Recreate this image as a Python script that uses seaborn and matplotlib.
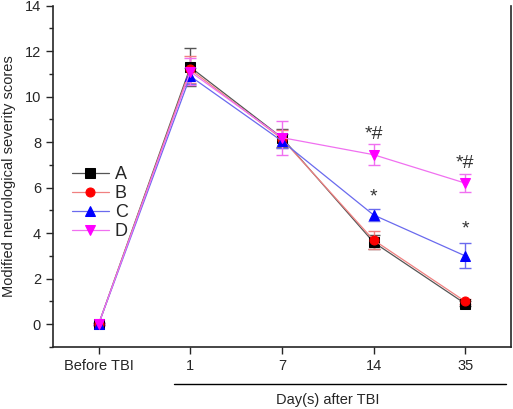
import matplotlib
matplotlib.use("Agg")
import matplotlib.pyplot as plt
from matplotlib.ticker import MultipleLocator
import seaborn as sns
import pandas as pd

timepoints = ["Before TBI", "1", "7", "14", "35"]
groups = ["A", "B", "C", "D"]

score_a = [0, 11.3, 8.2, 3.6, 0.9]
score_b = [0, 11.2, 8.15, 3.7, 1.0]
score_c = [0, 10.9, 8.05, 4.8, 3.0]
score_d = [0, 11.1, 8.2, 7.45, 6.2]

err_a = [0.05, 0.85, 0.4, 0.3, 0.1]
err_b = [0.05, 0.6, 0.4, 0.4, 0.1]
err_c = [0.05, 0.35, 0.3, 0.25, 0.55]
err_d = [0.05, 0.6, 0.75, 0.45, 0.4]

# significance marks: (timepoint, y, text)
sig_marks = [("14", 8.35, "*#"), ("35", 7.05, "*#"), ("14", 5.6, "*"), ("35", 4.2, "*")]

marker_colors = {"A": "#000000", "B": "#ff0000", "C": "#0000ff", "D": "#ff00ff"}
line_colors = {"A": "#555555", "B": "#f08080", "C": "#6a6aee", "D": "#f070f0"}
markers = {"A": "s", "B": "o", "C": "^", "D": "v"}

scores = {"A": score_a, "B": score_b, "C": score_c, "D": score_d}
errs = {"A": err_a, "B": err_b, "C": err_c, "D": err_d}

df = pd.concat([
    pd.DataFrame({"time": timepoints, "score": scores[g], "err": errs[g], "group": g})
    for g in groups
], ignore_index=True)

sns.set_style("ticks")
plt.rcParams["font.family"] = ["Liberation Sans", "DejaVu Sans"]

fig = plt.figure(figsize=(5.13, 4.09), dpi=100)
ax = fig.add_axes([0.103, 0.152, 0.893, 0.834])

for g in groups:
    sub = df[df["group"] == g]
    sns.lineplot(data=sub, x="time", y="score", ax=ax, sort=False,
                 color=line_colors[g], linewidth=0.9, marker=markers[g],
                 markersize=6.5, markerfacecolor=marker_colors[g],
                 markeredgecolor=marker_colors[g], label=g)
    ax.errorbar(range(len(timepoints)), sub["score"], yerr=sub["err"],
                fmt="none", ecolor=line_colors[g], elinewidth=1.0,
                capsize=4, capthick=1.0, zorder=1)

for t, y, s in sig_marks:
    ax.text(timepoints.index(t), y, s, ha="center", va="center",
            fontsize=14, color="#333333")

ax.set_xlim(-0.5, 4.5)
ax.set_ylim(-1, 14)
ax.yaxis.set_major_locator(MultipleLocator(2))
ax.yaxis.set_minor_locator(MultipleLocator(1))
ax.tick_params(axis="both", which="major", direction="out", length=5,
               width=1, labelsize=10.5)
ax.tick_params(axis="y", which="minor", direction="out", length=3, width=1)
ax.set_xlabel("")
ax.set_ylabel("Modified neurological severity scores", fontsize=10.5, labelpad=6)
for side in ["left", "bottom", "right"]:
    ax.spines[side].set_linewidth(1.2)
ax.spines["top"].set_visible(False)

# bracket line and group label for days after TBI
ax.plot([0.82, 4.45], [-2.65, -2.65], color="black", linewidth=1,
        clip_on=False, transform=ax.transData)
ax.text(2.5, -3.35, "Day(s) after TBI", ha="center", va="center", fontsize=10.5)

ax.legend(loc="upper left", bbox_to_anchor=(0.025, 0.55), frameon=False,
          fontsize=13, handlelength=2.1, handletextpad=0.3, labelspacing=0.1,
          borderaxespad=0)

fig.savefig("out.png", dpi=100)
